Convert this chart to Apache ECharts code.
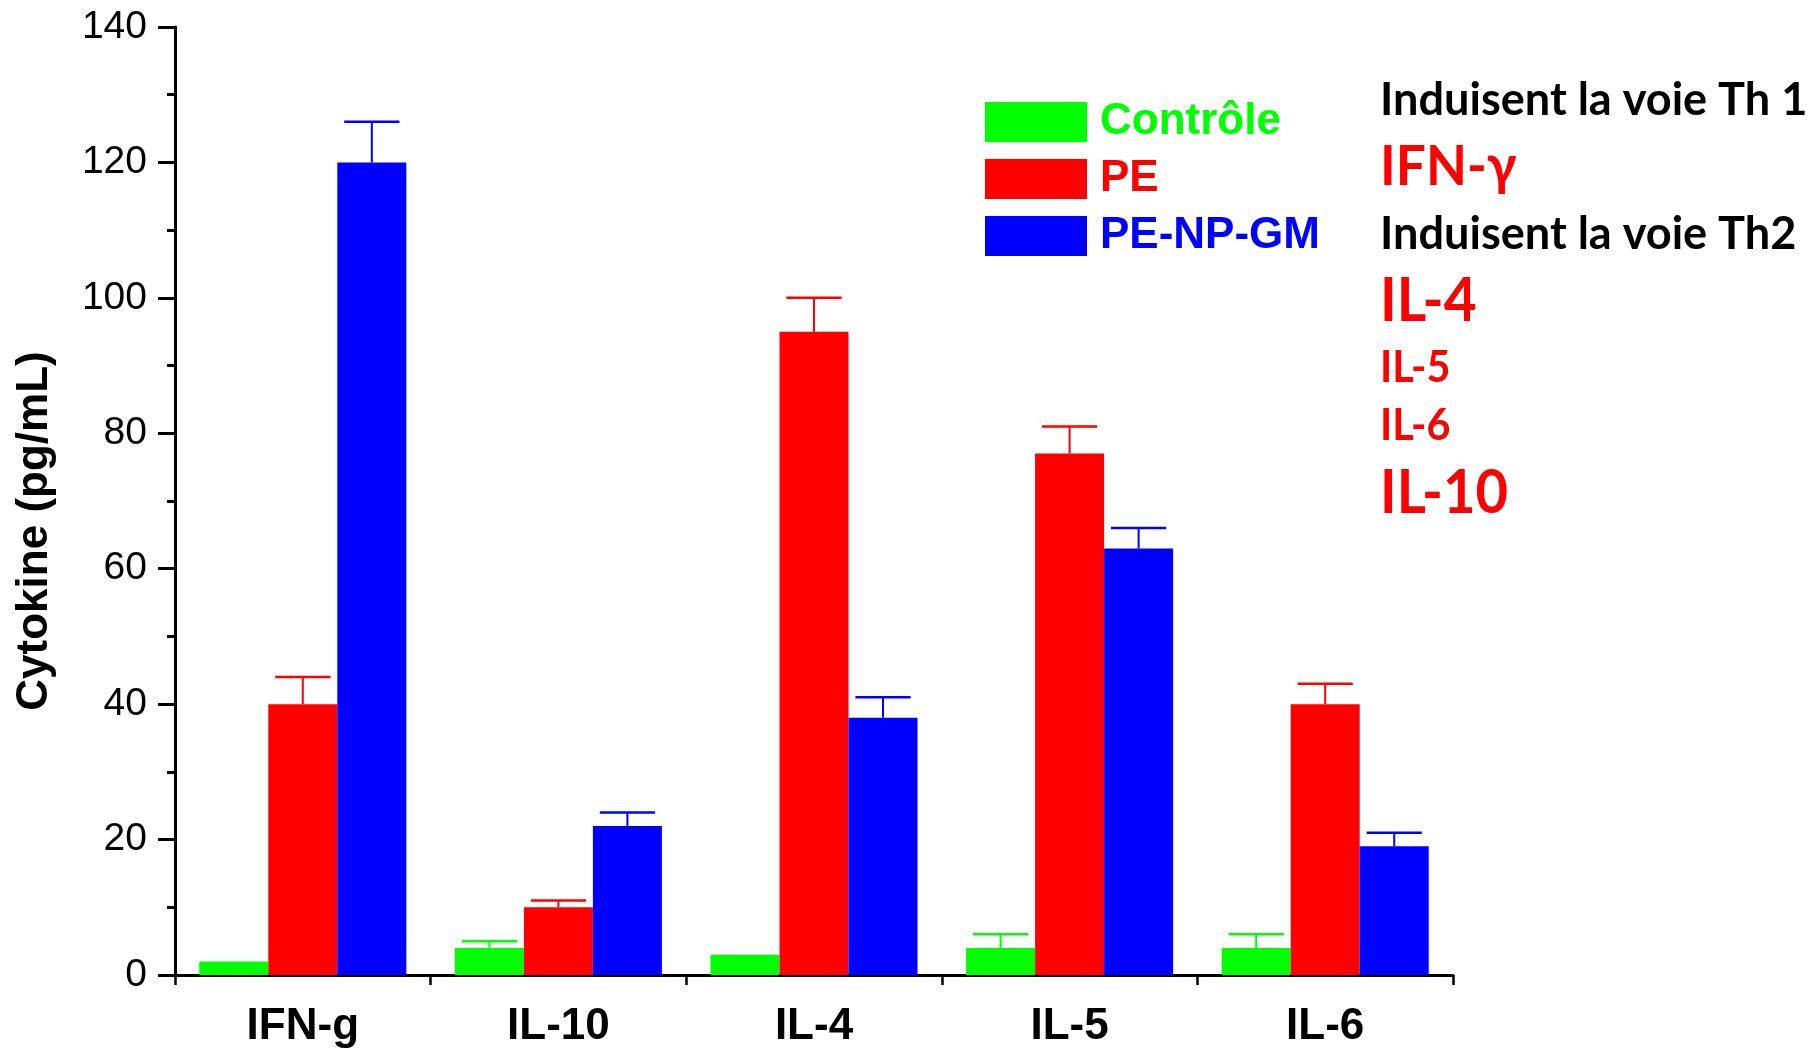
<!DOCTYPE html>
<html>
<head>
<meta charset="utf-8">
<script src="https://cdn.jsdelivr.net/npm/echarts@6/dist/echarts.min.js"></script>
<style>html,body{margin:0;padding:0;background:#fff;}#c{width:1811px;height:1050px;}</style>
</head>
<body>
<div id="c"></div>
<script>
const categories = ['IFN-g', 'IL-10', 'IL-4', 'IL-5', 'IL-6'];
const controle = [2, 4, 3, 4, 4];
const pe = [40, 10, 95, 77, 40];
const peNpGm = [120, 22, 38, 63, 19];
const controleErr = [null, 5, null, 6, 6];
const peErr = [44, 11, 100, 81, 43];
const peNpGmErr = [126, 24, 41, 66, 21];
const seriesNames = ['Contrôle', 'PE', 'PE-NP-GM'];
const colors = ['#00ff00', '#ff0000', '#0000ff'];
const sideNotes = [
  {text: 'Induisent la voie Th 1', color: '#000', size: 46, sx: 0.98, y: 100},
  {text: 'IFN-γ', color: '#ff0000', size: 56, sx: 0.95, y: 167},
  {text: 'Induisent la voie Th2', color: '#000', size: 46, sx: 0.98, y: 234},
  {text: 'IL-4', color: '#ff0000', size: 61, sx: 0.93, y: 301},
  {text: 'IL-5', color: '#ff0000', size: 44, sx: 0.94, y: 368},
  {text: 'IL-6', color: '#ff0000', size: 44, sx: 0.94, y: 426},
  {text: 'IL-10', color: '#ff0000', size: 61, sx: 0.92, y: 493}
];

const CAT_GAP = 0.19;
function errSeries(idx, vals, errs) {
  const data = [];
  vals.forEach((v, i) => { if (errs[i] != null) data.push([i, v, errs[i]]); });
  return {
    type: 'custom',
    name: seriesNames[idx] + ' err',
    z: 5,
    data: data,
    encode: {x: 0, y: [1, 2]},
    renderItem: function (params, api) {
      const cat = api.value(0), v = api.value(1), hi = api.value(2);
      const p0 = api.coord([cat, v]);
      const p1 = api.coord([cat, hi]);
      const bw = api.size([1, 0])[0];
      const barW = bw * (1 - CAT_GAP) / 3;
      const x = p0[0] + (idx - 1) * barW;
      const cap = barW * 0.8;
      return {
        type: 'group',
        children: [
          {type: 'line', shape: {x1: x, y1: p0[1], x2: x, y2: p1[1]}, style: {stroke: colors[idx], lineWidth: 2}},
          {type: 'line', shape: {x1: x - cap / 2, y1: p1[1], x2: x + cap / 2, y2: p1[1]}, style: {stroke: colors[idx], lineWidth: 2.5}}
        ]
      };
    }
  };
}

const chart = echarts.init(document.getElementById('c'), null, {renderer: 'canvas'});
const option = {
  backgroundColor: '#fff',
  animation: false,
  grid: {left: 175, right: 358, top: 27, bottom: 75, containLabel: false},
  legend: {
    orient: 'vertical',
    left: 980, top: 95,
    itemWidth: 102, itemHeight: 40, itemGap: 13,
    icon: 'rect',
    selectedMode: false,
    textStyle: {fontFamily: 'Liberation Sans', fontWeight: 'bold', fontSize: 44, lineHeight: 40, padding: [0, 0, 0, 8]},
    data: seriesNames.map((n, i) => ({name: n, textStyle: {color: colors[i]}}))
  },
  xAxis: [{
    type: 'category',
    data: categories,
    axisLine: {lineStyle: {color: '#000', width: 3}},
    axisTick: {alignWithLabel: true, length: 20, lineStyle: {color: '#000', width: 2.5}},
    axisLabel: {color: '#000', fontFamily: 'Liberation Sans', fontWeight: 'bold', fontSize: 44, margin: 30}
  }, {
    type: 'category',
    data: categories,
    position: 'bottom',
    axisLine: {show: false},
    axisTick: {show: true, length: 10, lineStyle: {color: '#000', width: 2.5}},
    axisLabel: {show: false}
  }],
  yAxis: {
    type: 'value',
    min: 0, max: 140, interval: 20,
    name: 'Cytokine (pg/mL)',
    nameLocation: 'middle',
    nameGap: 118,
    nameTextStyle: {color: '#000', fontFamily: 'Liberation Sans', fontWeight: 'bold', fontSize: 44, padding: [0, 60, 0, 0]},
    axisLine: {show: true, lineStyle: {color: '#000', width: 3}},
    axisTick: {show: true, length: 17, lineStyle: {color: '#000', width: 3}},
    minorTick: {show: true, splitNumber: 2, length: 8, lineStyle: {color: '#000', width: 3}},
    splitLine: {show: false},
    axisLabel: {color: '#000', fontFamily: 'Liberation Sans', fontSize: 39, margin: 28}
  },
  series: [
    {type: 'bar', name: seriesNames[0], data: controle, itemStyle: {color: colors[0]}, barGap: '0%', barCategoryGap: '19%'},
    {type: 'bar', name: seriesNames[1], data: pe, itemStyle: {color: colors[1]}, barGap: '0%', barCategoryGap: '19%'},
    {type: 'bar', name: seriesNames[2], data: peNpGm, itemStyle: {color: colors[2]}, barGap: '0%', barCategoryGap: '19%'},
    errSeries(0, controle, controleErr),
    errSeries(1, pe, peErr),
    errSeries(2, peNpGm, peNpGmErr)
  ],
  graphic: sideNotes.map(n => ({
    type: 'text',
    x: 1380, y: n.y,
    scaleX: n.sx,
    style: {text: n.text, fill: n.color, fontFamily: 'Lato', fontWeight: 'bold', fontSize: n.size, verticalAlign: 'middle', align: 'left'}
  }))
};
chart.setOption(option);
</script>
</body>
</html>
